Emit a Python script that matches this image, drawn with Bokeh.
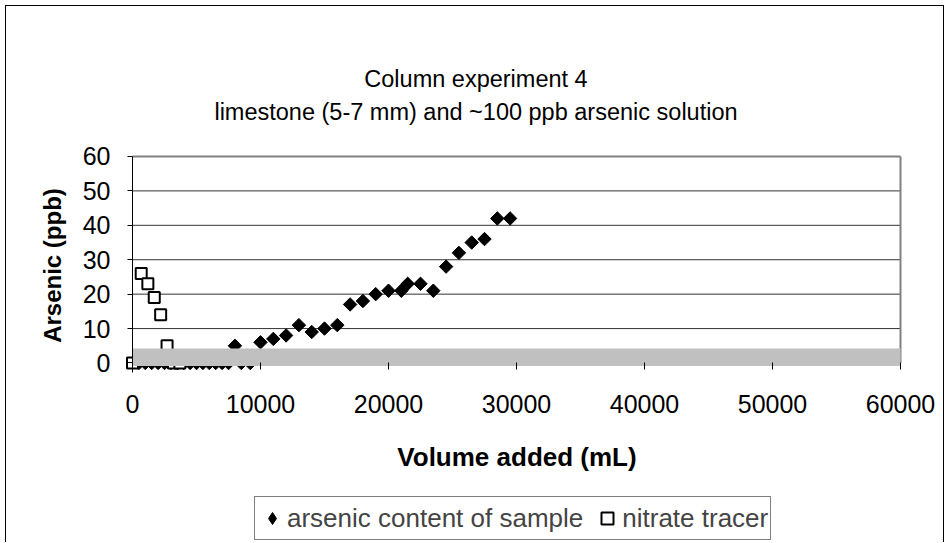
import numpy as np
from bokeh.plotting import figure
from bokeh.models import Range1d, FixedTicker, Label, Legend, LegendItem
from bokeh.embed import file_html
from bokeh.resources import INLINE

title_lines = ["Column experiment 4", "limestone (5-7 mm) and ~100 ppb arsenic solution"]
x_label = "Volume added (mL)"
y_label = "Arsenic (ppb)"
x_ticks = [0, 10000, 20000, 30000, 40000, 50000, 60000]
y_ticks = [0, 10, 20, 30, 40, 50, 60]

arsenic_x = [500, 1000, 1500, 2000, 2500, 3000, 3500, 4000, 4500, 5000, 5500, 6000,
             6500, 7000, 7500, 8000, 8500, 9200, 10000, 11000, 12000, 13000, 14000,
             15000, 16000, 17000, 18000, 19000, 20000, 21000, 21500, 22500, 23500,
             24500, 25500, 26500, 27500, 28500, 29500]
arsenic_y = [0, 0, 0, 0, 0, 0, 0, 0, 0, 0, 0, 0,
             0, 0, 0, 5, 0, 0, 6, 7, 8, 11, 9,
             10, 11, 17, 18, 20, 21, 21, 23, 23, 21,
             28, 32, 35, 36, 42, 42]

nitrate_x = [0, 680, 1200, 1700, 2200, 2700, 3200, 3700]
nitrate_y = [0, 26, 23, 19, 14, 5, 0, 0]

limit_x = [0, 60000]
limit_y = [1.7, 1.7]

FONT = "Liberation Sans"
# the frame covers the whole canvas; the plot area is 0..60000 x 0..60
X_MIN, X_MAX = -9843.75, 63515.6
Y_MIN, Y_MAX = -52.45, 103.58
Y_AXIS_BOTTOM = -2.76

W, H = 939, 537

p = figure(width=W, height=H,
           x_range=Range1d(X_MIN, X_MAX), y_range=Range1d(Y_MIN, Y_MAX),
           output_backend="svg", toolbar_location=None,
           min_border_left=0, min_border_right=0,
           min_border_top=0, min_border_bottom=0,
           styles={"margin-left": "5px", "margin-top": "5px",
                   "border-left": "1px solid black", "border-top": "1px solid black",
                   "border-right": "1px solid black"})
p.outline_line_color = None
p.background_fill_color = "white"
p.border_fill_color = "white"
p.xgrid.visible = False
p.ygrid.visible = False

# horizontal gridlines of the plot area
grid_y = y_ticks[1:-1]
p.segment(x0=[x_ticks[0]] * len(grid_y), y0=grid_y,
          x1=[x_ticks[-1]] * len(grid_y), y1=grid_y,
          line_color="#333333", line_width=1)
# plot-area border (top and right)
p.segment(x0=[x_ticks[0], x_ticks[-1]], y0=[y_ticks[-1], y_ticks[0]],
          x1=[x_ticks[-1], x_ticks[-1]], y1=[y_ticks[-1], y_ticks[-1]],
          line_color="#808080", line_width=2)

r_ars = p.scatter(arsenic_x, arsenic_y, marker="square", size=9.5, angle=np.pi / 4,
                  fill_color="black", line_color="black", line_width=1)
r_nit = p.scatter(nitrate_x, nitrate_y, marker="square", size=11,
                  fill_color="white", line_color="black", line_width=2)
p.line(limit_x, limit_y, line_color="#C0C0C0", line_width=17.5)

# legend swatch for the arsenic series (diamond); NaN so it draws nothing in the plot
r_ars_key = p.scatter(x=[np.nan], y=[np.nan], marker="diamond",
                      fill_color="black", line_color="black")

xa = p.xaxis[0]
xa.ticker = FixedTicker(ticks=x_ticks)
xa.fixed_location = 0
xa.bounds = (x_ticks[0], x_ticks[-1])
xa.major_label_overrides = {t: str(t) for t in x_ticks}
xa.axis_line_color = None
xa.major_tick_line_color = "black"
xa.major_tick_out = 7
xa.major_tick_in = 0
xa.minor_tick_line_color = None
xa.major_label_text_font = FONT
xa.major_label_text_font_size = "25px"
xa.major_label_text_color = "black"
xa.major_label_standoff = 25

ya = p.yaxis[0]
ya.ticker = FixedTicker(ticks=y_ticks)
ya.fixed_location = 0
ya.bounds = (Y_AXIS_BOTTOM, y_ticks[-1])
ya.major_label_overrides = {t: str(t) for t in y_ticks}
ya.axis_line_color = "black"
ya.major_tick_line_color = "black"
ya.major_tick_out = 5
ya.major_tick_in = 0
ya.minor_tick_line_color = None
ya.major_label_text_font = FONT
ya.major_label_text_font_size = "25px"
ya.major_label_text_color = "black"
ya.major_label_standoff = 17

# axis titles
p.add_layout(Label(x=510.5, y=87, x_units="screen", y_units="screen", text=x_label,
                   text_align="center", text_baseline="alphabetic",
                   text_font=FONT, text_font_style="bold", text_font_size="26px",
                   text_color="black"))
p.add_layout(Label(x=46, y=278, x_units="screen", y_units="screen", text=y_label,
                   angle=np.pi / 2, text_align="center", text_baseline="middle",
                   text_font=FONT, text_font_style="bold", text_font_size="24px",
                   text_color="black"))

legend = Legend(items=[LegendItem(label="arsenic content of sample", renderers=[r_ars_key]),
                       LegendItem(label="nitrate tracer", renderers=[r_nit])],
                orientation="horizontal", location=(248, 3),
                border_line_color="black", border_line_width=1,
                background_fill_color="white", background_fill_alpha=1,
                label_text_font=FONT, label_text_font_size="26px",
                glyph_width=30, glyph_height=38, label_height=38, label_standoff=-3,
                spacing=9, padding=2, margin=0)
p.add_layout(legend)

baselines = [465, 432]
for t, yb in zip(title_lines, baselines):
    p.add_layout(Label(x=469.5, y=yb, x_units="screen", y_units="screen", text=t,
                       text_align="center", text_baseline="alphabetic",
                       text_font=FONT, text_font_size="23.5px", text_color="black"))

open("out.html", "w").write(file_html(p, INLINE))
